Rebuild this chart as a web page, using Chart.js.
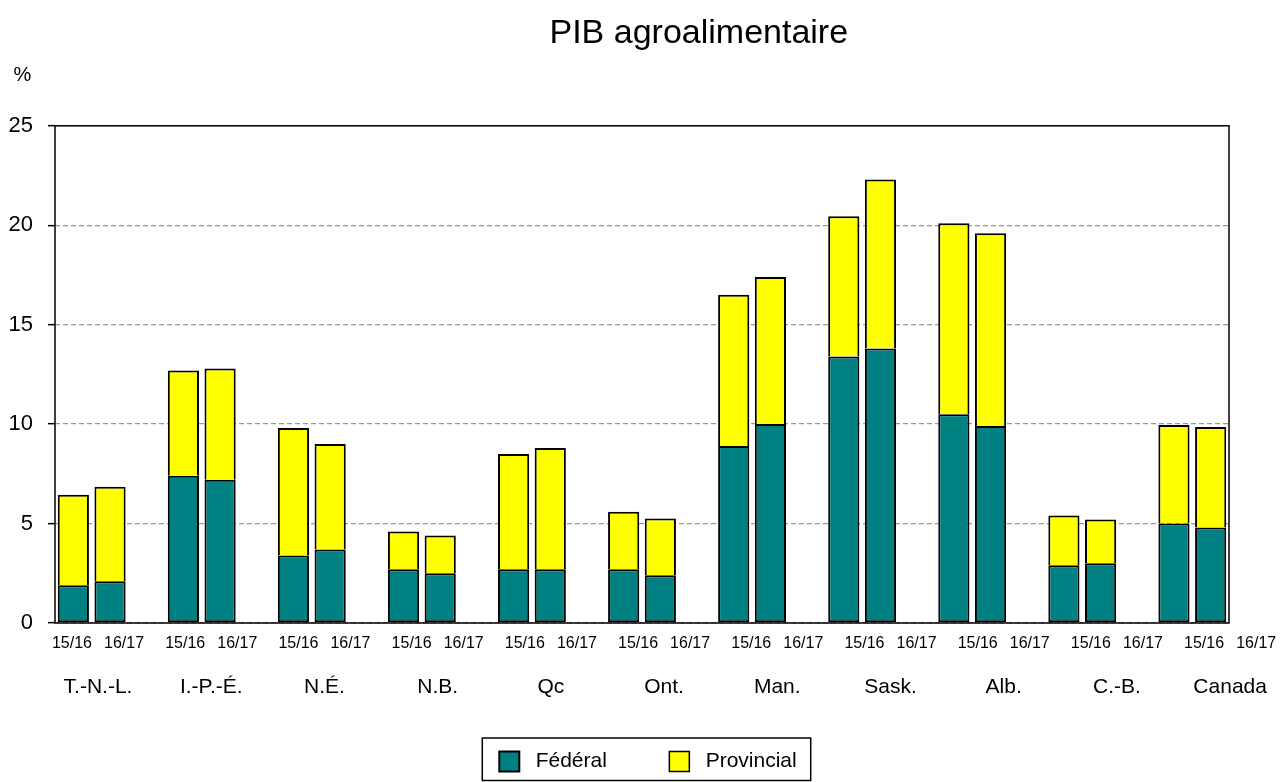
<!DOCTYPE html>
<html lang="fr">
<head>
<meta charset="utf-8">
<title>PIB agroalimentaire</title>
<script src="https://cdn.jsdelivr.net/npm/chart.js@4"></script>
<style>
  html, body { margin: 0; padding: 0; background: #fff; }
  #wrap { width: 1287px; height: 782px; }
</style>
</head>
<body>
<div id="wrap"><canvas id="chart"></canvas></div>
<script>
// Data (% of agri-food GDP)
const provinces = ["T.-N.-L.", "I.-P.-É.", "N.É.", "N.B.", "Qc", "Ont.", "Man.", "Sask.", "Alb.", "C.-B.", "Canada"];
const years = ["15/16", "16/17"];
const federal1516 = [1.9, 7.4, 3.4, 2.7, 2.7, 2.7, 8.9, 13.4, 10.5, 2.9, 5.0];
const federal1617 = [2.1, 7.2, 3.7, 2.5, 2.7, 2.4, 10.0, 13.8, 9.9, 3.0, 4.8];
const provincial1516 = [4.55, 5.3, 6.4, 1.9, 5.8, 2.9, 7.6, 7.05, 9.6, 2.5, 4.95];
const provincial1617 = [4.75, 5.6, 5.3, 1.9, 6.1, 2.85, 7.4, 8.5, 9.7, 2.2, 5.05];
const yTicks = [0, 5, 10, 15, 20, 25];

// Each province takes two bar slots plus an empty gap slot (none after the last one)
const slots = [];
const federalData = [];
const provincialData = [];
provinces.forEach((p, g) => {
  slots.push(years[0], years[1]);
  federalData.push(federal1516[g], federal1617[g]);
  provincialData.push(provincial1516[g], provincial1617[g]);
  if (g < provinces.length - 1) {
    slots.push("");
    federalData.push(null);
    provincialData.push(null);
  }
});

// Label rows sit on their own scale (3 label units per province)
const labelMin = -0.45;
const labelMax = 30.66;
const yearOffsets = [0, 1.38];
const groupOffset = 0.69;
const yearTickValues = [];
provinces.forEach((p, g) => yearOffsets.forEach((o) => yearTickValues.push(g * 3 + o)));
const groupTickValues = provinces.map((p, g) => g * 3 + groupOffset);

Chart.defaults.font.family = "'Liberation Sans', Arial, sans-serif";
Chart.defaults.color = "#000";

// label rows must not push the plot area in
function noSidePadding(s) {
  s.paddingLeft = 0;
  s.paddingRight = 0;
}

const plotFrame = {
  id: "plotFrame",
  afterDatasetsDraw(chart) {
    const { ctx, chartArea } = chart;
    ctx.save();
    ctx.strokeStyle = "#000";
    ctx.lineWidth = 1.5;
    ctx.strokeRect(chartArea.left, chartArea.top, chartArea.right - chartArea.left, chartArea.bottom - chartArea.top);
    ctx.restore();
  },
};

// nudges the legend a little right and draws the box round it
const legendBox = {
  id: "legendBox",
  afterLayout(chart) {
    if (!chart.legend) return;
    chart.legend.left += 6;
    chart.legend.right += 6;
  },
  afterDraw(chart) {
    const boxes = chart.legend && chart.legend.legendHitBoxes;
    if (!boxes || !boxes.length) return;
    const first = boxes[0];
    const last = boxes[boxes.length - 1];
    const left = first.left - 17;
    const top = first.top - 13;
    const right = last.left + last.width + 14;
    const ctx = chart.ctx;
    ctx.save();
    ctx.strokeStyle = "#000";
    ctx.lineWidth = 1.5;
    ctx.strokeRect(left, top, right - left, chart.height - 1.5 - top);
    ctx.restore();
  },
};

new Chart(document.getElementById("chart"), {
  type: "bar",
  data: {
    labels: slots,
    datasets: [
      {
        label: "Fédéral",
        data: federalData,
        backgroundColor: "#008080",
        borderColor: "#000",
        borderWidth: 2,
        borderSkipped: false,
      },
      {
        label: "Provincial",
        data: provincialData,
        backgroundColor: "#FFFF00",
        borderColor: "#000",
        borderWidth: { top: 2, left: 2, right: 2, bottom: 0 },
        borderSkipped: false,
      },
    ],
  },
  options: {
    responsive: true,
    maintainAspectRatio: false,
    animation: false,
    layout: { padding: { left: 8, right: 58, top: 0, bottom: 0 } },
    datasets: { bar: { barPercentage: 1, categoryPercentage: 0.85 } },
    scales: {
      x: { stacked: true, display: false, afterFit: noSidePadding },
      y: {
        stacked: true,
        min: 0,
        max: 25,
        afterBuildTicks: (s) => { s.ticks = yTicks.map((v) => ({ value: v })); },
        afterFit: (s) => { s.width = 47; },
        ticks: { font: { size: 22 }, padding: 15 },
        grid: {
          color: "#999",
          lineWidth: 1.3,
          tickLength: 7,
          tickColor: "#000",
          tickWidth: 1.5,
          tickBorderDash: [],
        },
        border: { display: false, dash: [5, 3] },
      },
      years: {
        type: "linear",
        position: "bottom",
        weight: 1,
        offset: false,
        min: labelMin,
        max: labelMax,
        bounds: "data",
        afterBuildTicks: (s) => { s.ticks = yearTickValues.map((v) => ({ value: v })); },
        afterFit: (s) => { s.height = 30; noSidePadding(s); },
        ticks: {
          autoSkip: false,
          maxRotation: 0,
          minRotation: 0,
          padding: 11,
          font: { size: 16 },
          callback: (value, index) => years[index % 2],
        },
        grid: { display: false, drawTicks: false, offset: false },
        border: { display: false },
      },
      groups: {
        type: "linear",
        position: "bottom",
        weight: 2,
        offset: false,
        min: labelMin,
        max: labelMax,
        bounds: "data",
        afterBuildTicks: (s) => { s.ticks = groupTickValues.map((v) => ({ value: v })); },
        afterFit: (s) => { s.height = 88; noSidePadding(s); },
        ticks: {
          autoSkip: false,
          maxRotation: 0,
          minRotation: 0,
          padding: 22,
          font: { size: 21 },
          callback: (value, index) => provinces[index],
        },
        grid: { display: false, drawTicks: false, offset: false },
        border: { display: false },
      },
    },
    plugins: {
      title: {
        display: true,
        text: "                 PIB agroalimentaire",
        font: { size: 34, weight: "normal" },
        color: "#000",
        padding: { top: 13, bottom: 0 },
      },
      subtitle: {
        display: true,
        text: " %",
        align: "start",
        font: { size: 20 },
        color: "#000",
        padding: { top: 10, bottom: 38 },
      },
      legend: {
        position: "bottom",
        fullSize: false,
        labels: {
          boxWidth: 20,
          boxHeight: 20,
          padding: 10,
          font: { size: 21 },
          color: "#000",
          generateLabels: (chart) => {
            const items = Chart.defaults.plugins.legend.labels.generateLabels(chart);
            return items.map((it, i) => {
              const trail = i < items.length - 1 ? "         " : "";
              it.text = " " + it.text + trail;
              return it;
            });
          },
        },
      },
      tooltip: { enabled: false },
    },
  },
  plugins: [plotFrame, legendBox],
});
</script>
</body>
</html>
